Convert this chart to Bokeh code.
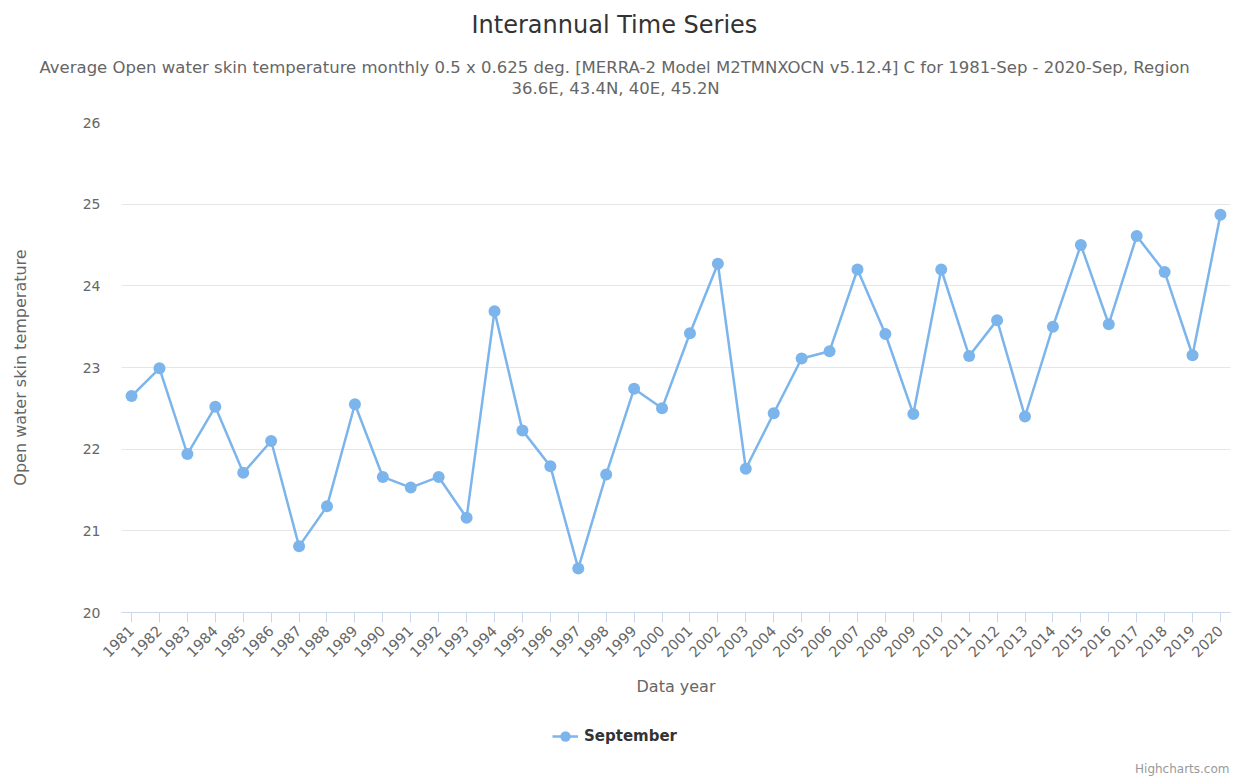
import math
from bokeh.plotting import figure
from bokeh.layouts import column
from bokeh.models import Range1d, FixedTicker, Label, Legend, LegendItem, ColumnDataSource, Title
from bokeh.embed import file_html
from bokeh.resources import INLINE

# ---- data ----
years = [1981, 1982, 1983, 1984, 1985, 1986, 1987, 1988, 1989, 1990,
         1991, 1992, 1993, 1994, 1995, 1996, 1997, 1998, 1999, 2000,
         2001, 2002, 2003, 2004, 2005, 2006, 2007, 2008, 2009, 2010,
         2011, 2012, 2013, 2014, 2015, 2016, 2017, 2018, 2019, 2020]
september = [22.65, 22.99, 21.94, 22.52, 21.71, 22.10, 20.81, 21.30, 22.55, 21.66,
             21.53, 21.66, 21.16, 23.69, 22.23, 21.79, 20.54, 21.69, 22.74, 22.50,
             23.42, 24.27, 21.76, 22.44, 23.11, 23.20, 24.20, 23.41, 22.43, 24.20,
             23.14, 23.58, 22.40, 23.50, 24.50, 23.53, 24.61, 24.17, 23.15, 24.87]
y_ticks = [20, 21, 22, 23, 24, 25, 26]

TITLE = "Interannual Time Series"
SUBTITLE_1 = ("Average Open water skin temperature monthly 0.5 x 0.625 deg. "
              "[MERRA-2 Model M2TMNXOCN v5.12.4] C for 1981-Sep - 2020-Sep, Region")
SUBTITLE_2 = "36.6E, 43.4N, 40E, 45.2N"
Y_LABEL = "Open water skin temperature"
X_LABEL = "Data year"
SERIES = "September"
CREDIT = "Highcharts.com"

FONT = "DejaVu Sans"
LINE_COLOR = "#7cb5ec"
W = 1233
MAIN_H, FOOT_H = 712, 64
FRAME_L, FRAME_R = 121, 1230

# ---- main chart ----
p = figure(width=W, height=MAIN_H, output_backend="svg", toolbar_location=None,
           title=None,
           x_range=Range1d(years[0] - 0.36, years[-1] + 0.36),
           y_range=Range1d(y_ticks[0], y_ticks[-1]),
           min_border_left=FRAME_L, min_border_right=W - FRAME_R,
           min_border_top=122, min_border_bottom=100)
p.outline_line_color = None
p.background_fill_color = "white"
p.border_fill_color = "white"

src = ColumnDataSource(dict(year=years, t=september))
p.line("year", "t", source=src, line_color=LINE_COLOR, line_width=2.5)
p.scatter("year", "t", source=src, size=12, fill_color=LINE_COLOR,
          line_color=LINE_COLOR, line_width=0)

xa = p.xaxis[0]
xa.ticker = FixedTicker(ticks=years)
xa.major_label_orientation = math.pi / 4
xa.axis_line_color = "#ccd6eb"
xa.axis_line_width = 1
xa.major_tick_line_color = "#ccd6eb"
xa.major_tick_out = 10
xa.major_tick_in = 0
xa.minor_tick_line_color = None
xa.major_label_text_font = FONT
xa.major_label_text_font_size = "14.5px"
xa.major_label_text_color = "#666666"
xa.major_label_standoff = 6
xa.axis_label = X_LABEL
xa.axis_label_text_font = FONT
xa.axis_label_text_font_size = "16px"
xa.axis_label_text_font_style = "normal"
xa.axis_label_text_color = "#666666"
xa.axis_label_standoff = 12

ya = p.yaxis[0]
ya.ticker = FixedTicker(ticks=y_ticks)
ya.axis_line_color = None
ya.major_tick_line_color = None
ya.minor_tick_line_color = None
ya.major_label_text_font = FONT
ya.major_label_text_font_size = "14px"
ya.major_label_text_color = "#666666"
ya.major_label_standoff = 15
ya.axis_label = Y_LABEL
ya.axis_label_text_font = FONT
ya.axis_label_text_font_size = "16px"
ya.axis_label_text_font_style = "normal"
ya.axis_label_text_color = "#666666"
ya.axis_label_standoff = 50

p.xgrid.grid_line_color = None
p.ygrid.grid_line_color = "#e6e6e6"
p.ygrid.ticker = FixedTicker(ticks=y_ticks)


def title(text, size, color, standoff, offset=0.0):
    return Title(text=text, align="left", offset=offset, text_font=FONT,
                 text_font_size=size, text_font_style="normal", text_color=color,
                 standoff=standoff, vertical_align="bottom")


# stacked from the frame outward; offsets place each text centred on the page
p.add_layout(title(" ", "1px", "#ffffff", 22), "above")          # spacer
p.add_layout(title(SUBTITLE_2, "16.5px", "#666666", 0, 511 - FRAME_L), "above")
p.add_layout(title(SUBTITLE_1, "16.5px", "#666666", 0, 39 - FRAME_L), "above")
p.add_layout(title(" ", "1px", "#ffffff", 14), "above")          # spacer
p.add_layout(title(TITLE, "24px", "#333333", 0, 471 - FRAME_L), "above")

# ---- footer (legend + credit) ----
foot = figure(width=W, height=FOOT_H, output_backend="svg", toolbar_location=None,
              x_range=Range1d(FRAME_L, FRAME_R), y_range=Range1d(FOOT_H, 0),
              x_axis_type=None, y_axis_type=None, title=None,
              min_border_left=FRAME_L, min_border_right=W - FRAME_R,
              min_border_top=0, min_border_bottom=0)
foot.outline_line_color = None
foot.xgrid.visible = False
foot.ygrid.visible = False
foot.background_fill_color = "white"
foot.border_fill_color = "white"

nan = float("nan")
lg_src = ColumnDataSource(dict(x=[nan], y=[nan]))
lg_line = foot.line("x", "y", source=lg_src, line_color=LINE_COLOR, line_width=2.5)
lg_mark = foot.scatter("x", "y", source=lg_src, size=12, fill_color=LINE_COLOR,
                       line_color=LINE_COLOR, line_width=0)
legend = Legend(items=[LegendItem(label=SERIES, renderers=[lg_line, lg_mark])],
                location=(552 - FRAME_L, 26), orientation="horizontal",
                border_line_color=None, background_fill_alpha=0,
                padding=0, margin=0, glyph_width=26, glyph_height=28,
                label_height=28, label_standoff=6, label_text_font=FONT,
                label_text_font_size="15px", label_text_font_style="bold",
                label_text_color="#333333", label_text_baseline="middle")
foot.add_layout(legend, "center")
foot.add_layout(Label(x=FRAME_R - 1, y=56, text=CREDIT, text_align="right",
                      text_baseline="middle", text_font=FONT,
                      text_font_size="12px", text_color="#999999"))

layout = column(p, foot, spacing=0)
open("out.html", "w").write(file_html(layout, INLINE))
